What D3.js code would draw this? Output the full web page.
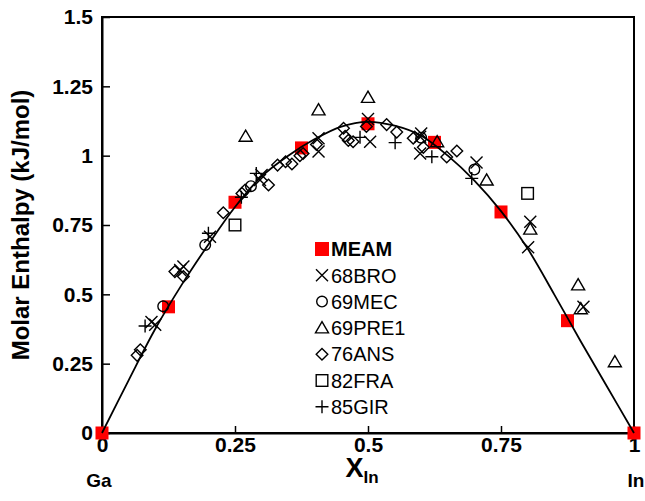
<!DOCTYPE html>
<html>
<head>
<meta charset="utf-8">
<script src="https://cdn.jsdelivr.net/npm/d3@7"></script>
<style>
  html, body { margin: 0; padding: 0; background: #fff; }
  svg { display: block; font-family: Arial, "Liberation Sans", sans-serif; }
</style>
</head>
<body>
<svg id="chart" width="645" height="501"></svg>
<script>
// ---------- data ----------
const xTicks = [0, 0.25, 0.5, 0.75, 1];
const xTickLabels = ["0", "0.25", "0.5", "0.75", "1"];
const yTicks = [0, 0.25, 0.5, 0.75, 1, 1.25, 1.5];
const yTickLabels = ["0", "0.25", "0.5", "0.75", "1", "1.25", "1.5"];

const meamX = [0, 0.125, 0.25, 0.375, 0.5, 0.625, 0.75, 0.875, 1];
const meamY = [0, 0.455, 0.832, 1.028, 1.115, 1.048, 0.797, 0.405, 0];

// fitted curve
const curveX = [0, 0.05, 0.1, 0.15, 0.2, 0.25, 0.3, 0.35, 0.4, 0.45, 0.5, 0.55, 0.6, 0.65, 0.7, 0.75, 0.8, 0.85, 0.9, 0.95, 1];
const curveY = [0, 0.19, 0.375, 0.535, 0.68, 0.815, 0.925, 1.0, 1.06, 1.105, 1.122, 1.108, 1.072, 1.0, 0.91, 0.8, 0.665, 0.5, 0.33, 0.165, 0];

const bro68X = [0.093, 0.1, 0.147, 0.153, 0.203, 0.297, 0.3, 0.407, 0.407, 0.5, 0.504, 0.598, 0.6, 0.598, 0.704, 0.805, 0.801, 0.905];
const bro68Y = [0.40, 0.39, 0.588, 0.6, 0.708, 0.912, 0.93, 1.063, 1.015, 1.132, 1.05, 1.068, 1.08, 1.008, 0.975, 0.762, 0.67, 0.455];

const mec69X = [0.115, 0.194, 0.28, 0.6, 0.7];
const mec69Y = [0.457, 0.678, 0.89, 1.065, 0.95];

const pre69X = [0.27, 0.407, 0.5, 0.63, 0.723, 0.805, 0.895, 0.9, 0.964];
const pre69Y = [1.07, 1.165, 1.21, 1.05, 0.912, 0.735, 0.534, 0.448, 0.257];

const ans76X = [0.066, 0.072, 0.137, 0.153, 0.228, 0.263, 0.269, 0.313, 0.33, 0.345, 0.357, 0.372, 0.378, 0.403, 0.454, 0.457, 0.463, 0.472, 0.497, 0.535, 0.554, 0.585, 0.604, 0.648, 0.667];
const ans76Y = [0.28, 0.30, 0.582, 0.564, 0.794, 0.864, 0.876, 0.894, 0.966, 0.978, 0.97, 1.0, 1.008, 1.04, 1.099, 1.07, 1.055, 1.05, 1.105, 1.112, 1.085, 1.063, 1.03, 0.995, 1.017];

const fra82X = [0.25, 0.8];
const fra82Y = [0.75, 0.864];

const gir85X = [0.081, 0.2, 0.262, 0.29, 0.485, 0.551, 0.62, 0.695];
const gir85Y = [0.386, 0.72, 0.85, 0.936, 1.066, 1.047, 0.996, 0.918];

const legendLabels = ["MEAM", "68BRO", "69MEC", "69PRE1", "76ANS", "82FRA", "85GIR"];

// ---------- layout ----------
const svg = d3.select("#chart");
const L = 102, R = 634, T = 17, B = 433;
const x = d3.scaleLinear().domain([0, 1]).range([L, R]);
const y = d3.scaleLinear().domain([0, 1.5]).range([B, T]);

// markers (symbols)
const sym = {
  cross: (g, s) => g.append("path").attr("d", `M${-s},${-s}L${s},${s}M${-s},${s}L${s},${-s}`),
  plus: (g, s) => g.append("path").attr("d", `M${-s},0L${s},0M0,${-s}L0,${s}`),
  circle: (g, s) => g.append("circle").attr("r", s),
  tri: (g, s) => g.append("path").attr("d", `M0,${-s*1.0}L${s*1.05},${s*0.8}L${-s*1.05},${s*0.8}Z`),
  diamond: (g, s) => g.append("path").attr("d", `M0,${-s}L${s},0L0,${s}L${-s},0Z`),
  square: (g, s) => g.append("rect").attr("x", -s).attr("y", -s).attr("width", 2*s).attr("height", 2*s)
};
const symSize = { cross: 6, plus: 6.5, circle: 5.3, tri: 6.2, diamond: 5.8, square: 5.8 };

function drawSeries(xs, ys, kind) {
  const g = svg.append("g");
  xs.forEach((xv, i) => {
    const m = g.append("g").attr("transform", `translate(${x(xv)},${y(ys[i])})`);
    sym[kind](m, symSize[kind]).attr("fill", "none").attr("stroke", "#000").attr("stroke-width", 1.4);
  });
}

// frame
svg.append("rect").attr("x", L).attr("y", T).attr("width", R - L).attr("height", B - T)
  .attr("fill", "none").attr("stroke", "#000").attr("stroke-width", 2);

// axes
const yAxis = d3.axisLeft(y).tickValues(yTicks).tickSizeInner(-8).tickSizeOuter(0).tickPadding(9)
  .tickFormat((d, i) => yTickLabels[i]);
const gy = svg.append("g").attr("transform", `translate(${L},0)`).call(yAxis);
const xAxis = d3.axisBottom(x).tickValues(xTicks).tickSizeInner(-7).tickSizeOuter(0).tickPadding(4)
  .tickFormat((d, i) => xTickLabels[i]);
const gx = svg.append("g").attr("transform", `translate(0,${B})`).call(xAxis);
[gx, gy].forEach(g => {
  g.select(".domain").attr("stroke", "#000").attr("stroke-width", 2);
  g.selectAll(".tick line").attr("stroke", "#000").attr("stroke-width", 1.5);
  g.selectAll(".tick text").attr("fill", "#000").style("font-size", "21px").style("font-weight", "bold")
    .style("font-family", "Arial, 'Liberation Sans', sans-serif");
});

// MEAM squares
const meamG = svg.append("g");
meamX.forEach((xv, i) => {
  meamG.append("rect").attr("x", x(xv) - 6.5).attr("y", y(meamY[i]) - 6.5)
    .attr("width", 13).attr("height", 13).attr("fill", "#ff0000");
});

// curve
const line = d3.line().x(d => x(d[0])).y(d => y(d[1])).curve(d3.curveCatmullRom.alpha(0.5));
svg.append("path").datum(curveX.map((v, i) => [v, curveY[i]]))
  .attr("d", line).attr("fill", "none").attr("stroke", "#000").attr("stroke-width", 1.8);

// data series
drawSeries(ans76X, ans76Y, "diamond");
drawSeries(fra82X, fra82Y, "square");
drawSeries(pre69X, pre69Y, "tri");
drawSeries(mec69X, mec69Y, "circle");
drawSeries(bro68X, bro68Y, "cross");
drawSeries(gir85X, gir85Y, "plus");

// legend
const legKinds = [null, "cross", "circle", "tri", "diamond", "square", "plus"];
const legX = 322, legY0 = 249, legDy = 26.3;
legendLabels.forEach((lab, i) => {
  const cy = legY0 + i * legDy;
  if (i === 0) {
    svg.append("rect").attr("x", legX - 7).attr("y", cy - 7).attr("width", 14).attr("height", 14).attr("fill", "#ff0000");
  } else {
    const m = svg.append("g").attr("transform", `translate(${legX},${cy})`);
    sym[legKinds[i]](m, symSize[legKinds[i]]).attr("fill", "none").attr("stroke", "#000").attr("stroke-width", 1.4);
  }
  svg.append("text").attr("x", legX + 9).attr("y", cy).attr("dy", "0.36em")
    .style("font-size", "20px").style("font-weight", i === 0 ? "bold" : "normal")
    .attr("fill", "#000").text(lab);
});

// axis titles
svg.append("text").attr("transform", `translate(29,${(T + B) / 2}) rotate(-90)`)
  .attr("text-anchor", "middle").style("font-size", "24px").style("font-weight", "bold")
  .text("Molar Enthalpy (kJ/mol)");

const xt = svg.append("text").attr("x", 362).attr("y", 477).attr("text-anchor", "middle")
  .style("font-weight", "bold");
xt.append("tspan").style("font-size", "27px").text("X");
xt.append("tspan").style("font-size", "17px").attr("dy", 6).text("In");

svg.append("text").attr("x", 99).attr("y", 487).attr("text-anchor", "middle")
  .style("font-size", "19px").style("font-weight", "bold").text("Ga");
svg.append("text").attr("x", 636).attr("y", 487).attr("text-anchor", "middle")
  .style("font-size", "19px").style("font-weight", "bold").text("In");
</script>
</body>
</html>
